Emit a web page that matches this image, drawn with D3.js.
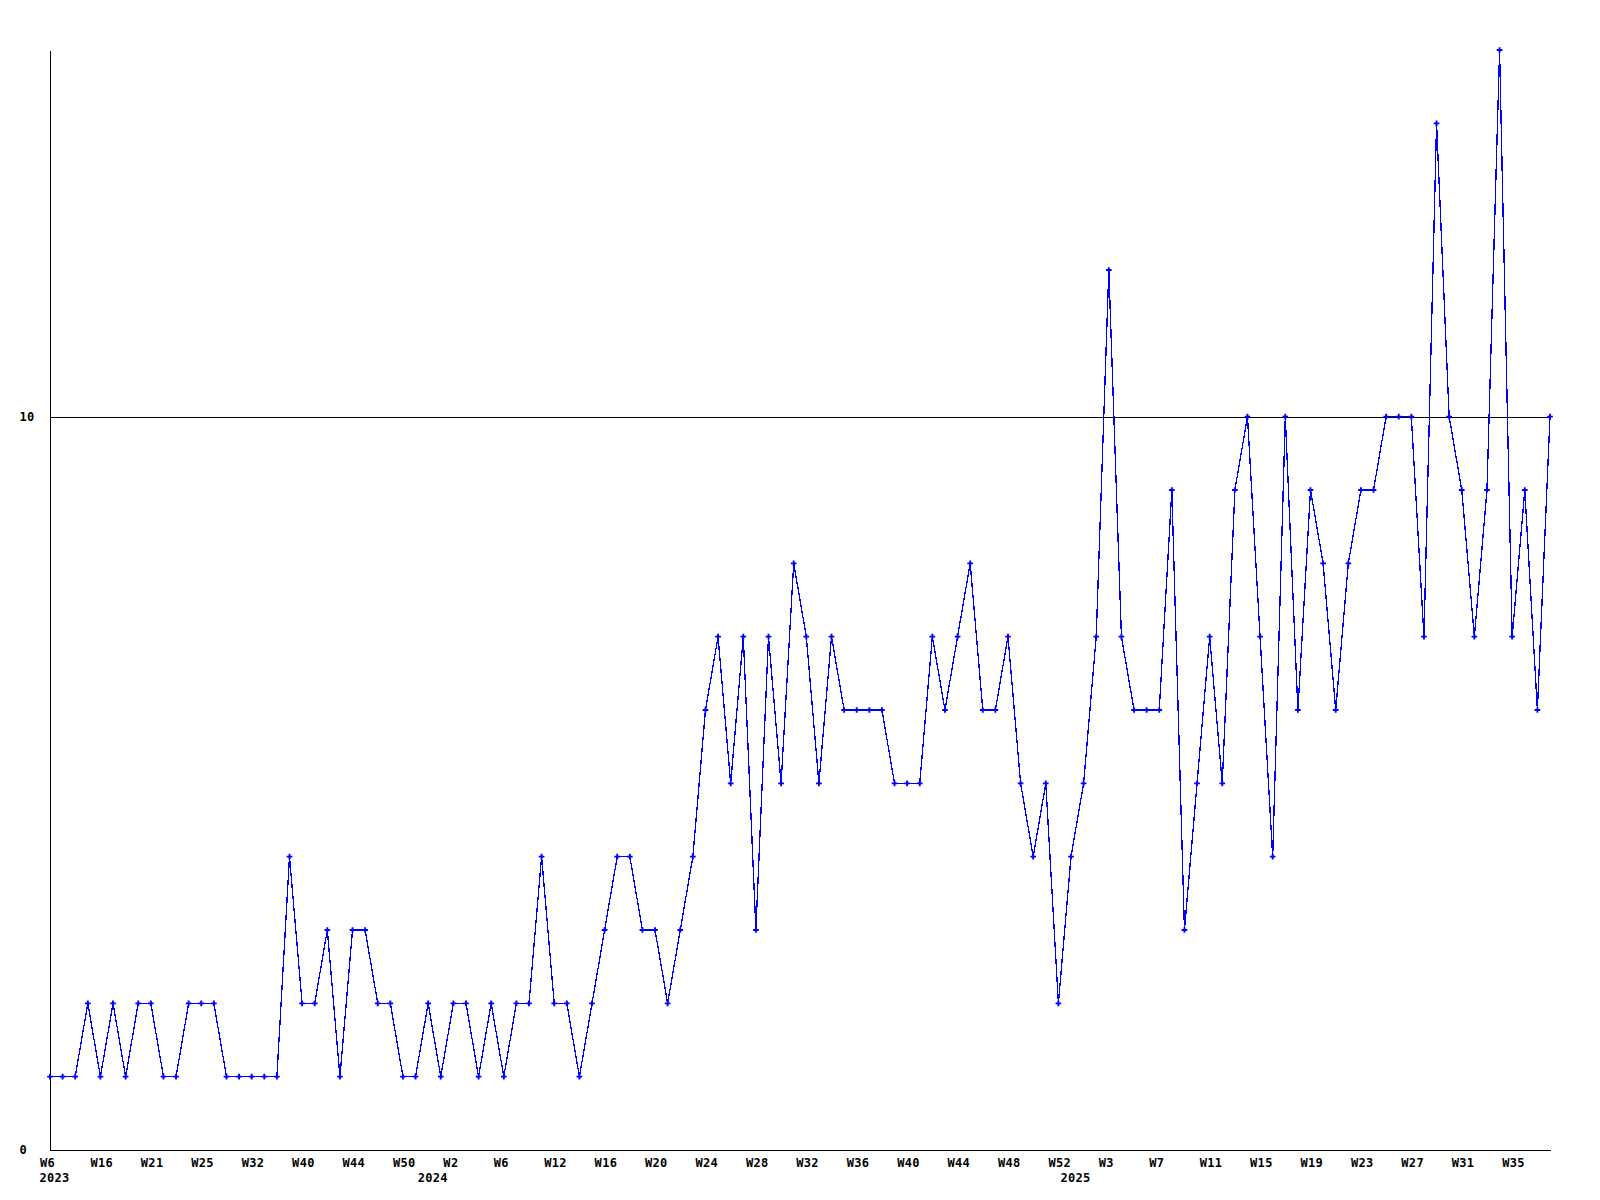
<!DOCTYPE html>
<html>
<head>
<meta charset="utf-8">
<script src="https://cdn.jsdelivr.net/npm/d3@7"></script>
<style>
  html, body { margin: 0; padding: 0; background: #ffffff; }
  svg { display: block; }
  text { font-family: "DejaVu Sans Mono", "Liberation Mono", monospace; font-weight: bold; font-size: 12px; letter-spacing: 0.3px; fill: #000; }
</style>
</head>
<body>
<svg id="chart" width="1600" height="1200"></svg>
<script>
// ---- data (one value per week, in chronological order) ----
const values = [
  1, 1, 1, 2, 1, 2, 1, 2, 2, 1,
  1, 2, 2, 2, 1, 1, 1, 1, 1, 4,
  2, 2, 3, 1, 3, 3, 2, 2, 1, 1,
  2, 1, 2, 2, 1, 2, 1, 2, 2, 4,
  2, 2, 1, 2, 3, 4, 4, 3, 3, 2,
  3, 4, 6, 7, 5, 7, 3, 7, 5, 8,
  7, 5, 7, 6, 6, 6, 6, 5, 5, 5,
  7, 6, 7, 8, 6, 6, 7, 5, 4, 5,
  2, 4, 5, 7, 12, 7, 6, 6, 6, 9,
  3, 5, 7, 5, 9, 10, 7, 4, 10, 6,
  9, 8, 6, 8, 9, 9, 10, 10, 10, 7,
  14, 10, 9, 7, 9, 15, 7, 9, 6, 10
];
// week labels shown on every 4th point
const weekTickLabels = [
  "W6", "W16", "W21", "W25", "W32", "W40", "W44", "W50",
  "W2", "W6", "W12", "W16", "W20", "W24", "W28", "W32", "W36", "W40", "W44", "W48", "W52",
  "W3", "W7", "W11", "W15", "W19", "W23", "W27", "W31", "W35"
];
const weekTickEvery = 4;
// year labels and the index of the first point of each year
const yearLabels = ["2023", "2024", "2025"];
const yearStartIndex = [0, 30, 81];
// y axis
const yTickValues = [0, 10];
const yMax = 15;

// ---- layout ----
const svg = d3.select("#chart");
const mLeft = 50, mRight = 1550, mTop = 50, mBottom = 1150;

const idx = d3.range(values.length);
const x = d3.scalePoint().domain(idx).range([mLeft, mRight]);
const y = d3.scaleLinear().domain([0, yMax]).range([mBottom, mTop]);

const fontStyle = sel => sel
  .style("font-family", "DejaVu Sans Mono, monospace")
  .style("font-size", "12px")
  .style("font-weight", "bold")
  .style("letter-spacing", "0.3px")
  .attr("fill", "#000");

// x axis (week labels)
const tickIdx = weekTickLabels.map((_, i) => i * weekTickEvery);
const xAxis = d3.axisBottom(x)
  .tickValues(tickIdx)
  .tickFormat(d => weekTickLabels[d / weekTickEvery])
  .tickSize(0)
  .tickSizeOuter(0);
const gx = svg.append("g").attr("transform", `translate(0,${mBottom})`).call(xAxis);
gx.select(".domain").attr("stroke", "#000").attr("stroke-width", 1).attr("shape-rendering", "crispEdges");
gx.selectAll(".tick text")
  .attr("text-anchor", "start")
  .attr("dx", -10.5)
  .attr("dy", 0)
  .attr("y", 17)
  .call(fontStyle);

// year labels
svg.append("g").selectAll("text")
  .data(yearLabels)
  .join("text")
  .attr("x", (d, i) => x(yearStartIndex[i]) - 10.5)
  .attr("y", mBottom + 32)
  .attr("text-anchor", "start")
  .call(fontStyle)
  .text(d => d);

// y axis
const yAxis = d3.axisLeft(y).tickValues(yTickValues).tickFormat(d3.format("d")).tickSize(0).tickSizeOuter(0);
const gy = svg.append("g").attr("transform", `translate(${mLeft},0)`).call(yAxis);
gy.select(".domain").attr("stroke", "#000").attr("stroke-width", 1).attr("shape-rendering", "crispEdges");
gy.selectAll(".tick text")
  .attr("text-anchor", "start")
  .attr("x", -30.5)
  .attr("dy", "0.32em")
  .call(fontStyle);

// data line
const line = d3.line().x((d, i) => x(i)).y(d => y(d));
svg.append("path")
  .datum(values)
  .attr("fill", "none")
  .attr("stroke", "#0000ff")
  .attr("stroke-width", 1.3)
  .attr("shape-rendering", "crispEdges")
  .attr("d", line);

// reference line at 10 (drawn over the series line)
svg.append("g").selectAll("line")
  .data(yTickValues.filter(v => v > 0))
  .join("line")
  .attr("x1", mLeft).attr("x2", mRight)
  .attr("y1", d => Math.round(y(d)) + 0.5).attr("y2", d => Math.round(y(d)) + 0.5)
  .attr("stroke", "#000")
  .attr("stroke-width", 1)
  .attr("shape-rendering", "crispEdges");

// markers
const sym = d3.symbol().type(d3.symbolCross).size(18);
svg.append("g").selectAll("path")
  .data(values)
  .join("path")
  .attr("transform", (d, i) => `translate(${x(i)},${y(d)})`)
  .attr("d", sym)
  .attr("fill", "#0000ff");
</script>
</body>
</html>
